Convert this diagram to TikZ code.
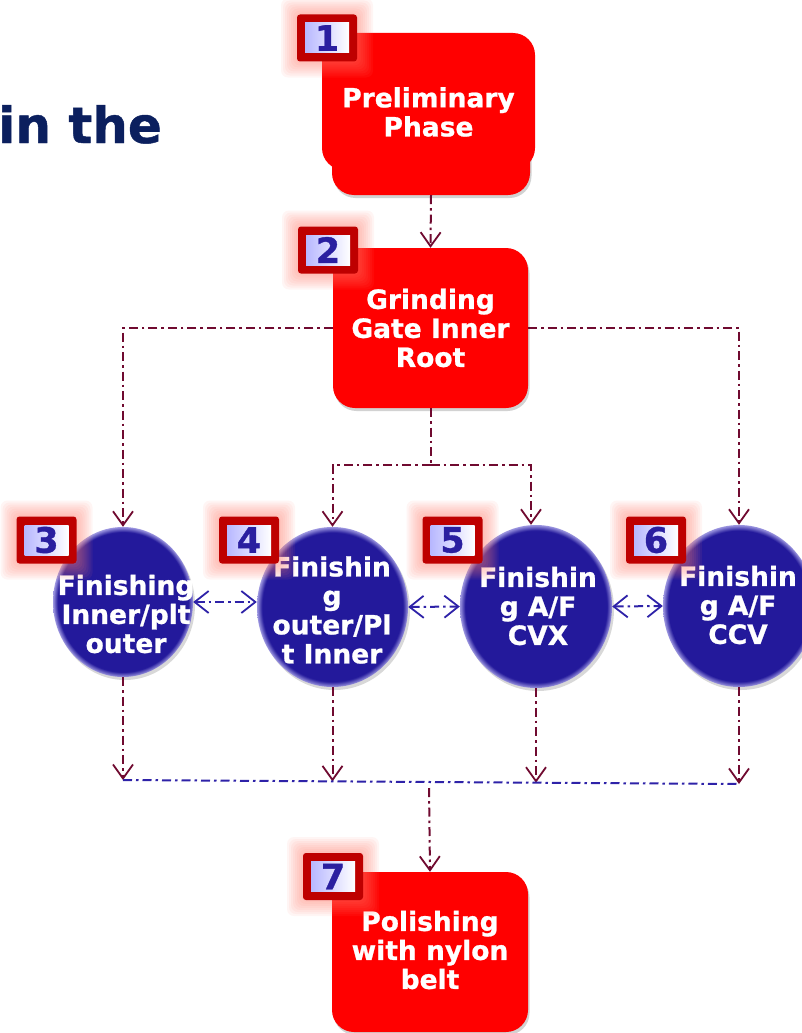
\documentclass[tikz,border=0pt]{standalone}
\usepackage{fontspec}
\setmainfont{DejaVu Sans}[BoldFeatures={FakeBold=0.9}]
\usetikzlibrary{arrows.meta,shapes.geometric,shadows,calc}
\definecolor{boxred}{HTML}{FF0000}
\definecolor{ballblue}{HTML}{23199B}
\definecolor{ballrim}{HTML}{9C96E0}
\definecolor{linkmaroon}{HTML}{700A30}
\definecolor{linkblue}{HTML}{2E22A8}
\definecolor{badgered}{HTML}{BE0000}
\definecolor{digitblue}{HTML}{2A1FA0}
\definecolor{titleblue}{HTML}{0B1F5E}
\definecolor{glowred}{HTML}{FF8070}
\pgfdeclareradialshading{ballshade}{\pgfpoint{0bp}{0bp}}{color(0bp)=(ballblue); color(23.3bp)=(ballblue); color(25bp)=(ballrim); color(50bp)=(ballrim)}
\tikzset{
  redbox/.style={rectangle, rounded corners=22pt, fill=boxred, draw=none, inner sep=0pt,
    drop shadow={shadow xshift=1.5pt, shadow yshift=-3pt, opacity=0.35}},
  ball/.style={ellipse, shading=ballshade, draw=none, inner sep=0pt,
    drop shadow={shadow xshift=2pt, shadow yshift=-3pt, opacity=0.3}},
  boxtext/.style={text=white, font=\fontsize{26.5}{29}\selectfont\bfseries, align=center, inner sep=0pt},
  badgeouter/.style={rectangle, rounded corners=3pt, fill=badgered, minimum width=60pt, minimum height=47pt, inner sep=0pt},
  badgeinner/.style={rectangle, left color=blue!28, right color=white, minimum width=44pt, minimum height=30pt, inner sep=0pt, text=digitblue, font=\fontsize{35}{35}\selectfont\bfseries},
  dashdot/.style={line width=2pt, dash pattern=on 9pt off 4pt on 2.5pt off 4pt},
  flowline/.style={draw=linkmaroon, dashdot},
  flow/.style={flowline, -{Straight Barb[length=14pt,width=20pt,line width=1.8pt]}},
  bluelink/.style={draw=linkblue, dashdot},
  bluearrow/.style={bluelink, {Straight Barb[length=14pt,width=22pt,line width=1.8pt]}-{Straight Barb[length=14pt,width=22pt,line width=1.8pt]}},
  titletext/.style={text=titleblue, font=\fontsize{50}{50}\selectfont\bfseries, inner sep=0pt}
}
\newcommand\mybadge[3]{%
  \foreach \g in {1,...,8}{%
    \fill[glowred, opacity=0.075, rounded corners=7pt] ($(#2)+(-30-2*\g,-23.5-2*\g)$) rectangle ($(#2)+(30+2*\g,23.5+2*\g)$);
  }
  \node[badgeouter] (#1) at (#2) {};
  \node[badgeinner] (#1n) at (#1.center) {#3};
}
\begin{document}
\begin{tikzpicture}[x=1pt,y=-1pt]
\useasboundingbox (0,0) rectangle (802,1033);
\fill[white] (0,0) rectangle (802,1033);

% title fragment
\node[titletext, anchor=base east] (title) at (162,143) {in the};

% shapes
\node[redbox, minimum width=198pt, minimum height=155pt] (b1back) at (431,117.5) {};
\node[rectangle, rounded corners=22pt, fill=boxred, inner sep=0pt, minimum width=213pt, minimum height=137pt] (b1) at (428.5,101.5) {};
\node[boxtext] (t1) at (428.5,112) {Preliminary\\Phase};

\node[redbox, minimum width=195pt, minimum height=160pt] (b2) at (430.5,328) {};
\node[boxtext] (t2) at (430.5,328) {Grinding\\Gate Inner\\Root};

\node[redbox, minimum width=196pt, minimum height=160pt] (b7) at (430,952) {};
\node[boxtext] (t7) at (430,950) {Polishing\\with nylon\\belt};

\node[ball, minimum width=140pt, minimum height=150pt] (c3) at (123,602) {};
\node[ball, minimum width=151pt, minimum height=160pt] (c4) at (332.5,607) {};
\node[ball, minimum width=152pt, minimum height=163pt] (c5) at (536,606.5) {};
\node[ball, minimum width=152pt, minimum height=162pt] (c6) at (739,606) {};

\node[boxtext] (t3) at (126,614) {Finishing\\Inner/plt\\outer};
\node[boxtext] (t4) at (332,610) {Finishin\\g\\outer/Pl\\t Inner};
\node[boxtext] (t5) at (538,606) {Finishin\\g A/F\\CVX};
\node[boxtext] (t6) at (738,605) {Finishin\\g A/F\\CCV};

% connectors
\coordinate (split) at (430.5,465);
\coordinate (j3) at (123,780);
\coordinate (j4) at (332.5,781.4);
\coordinate (j5) at (536,782.7);
\coordinate (j6) at (739,784);
\coordinate (jm) at (429,788);

\draw[flow] (b1back.south) -- (b2.north);
\draw[flow] (b2.west) -| (c3.north);
\draw[flow] (b2.east) -| (c6.north);
\draw[flowline] (b2.south) -- (split);
\draw[flow] (split) -| (c4.north);
\draw[flow] (split) -| ($(c5.north)+(-5,0)$);

\draw[bluearrow] (c3.east) -- (c3.east -| c4.west);
\draw[bluearrow] (c4.east) -- (c5.west);
\draw[bluearrow] (c5.east) -- (c6.west);

\draw[flow] (c3.south) -- (j3);
\draw[flow] (c4.south) -- (j4);
\draw[flow] (c5.south) -- (j5);
\draw[flow] (c6.south) -- (j6);
\draw[bluelink] (j3) -- (j6);
\draw[flow] (jm) -- (b7.north);

% badges
\mybadge{n1}{327,38}{1}
\mybadge{n2}{328,250}{2}
\mybadge{n3}{46.5,540}{3}
\mybadge{n4}{249,540}{4}
\mybadge{n5}{452.5,540}{5}
\mybadge{n6}{656,540}{6}
\mybadge{n7}{333,876.5}{7}
\end{tikzpicture}
\end{document}
